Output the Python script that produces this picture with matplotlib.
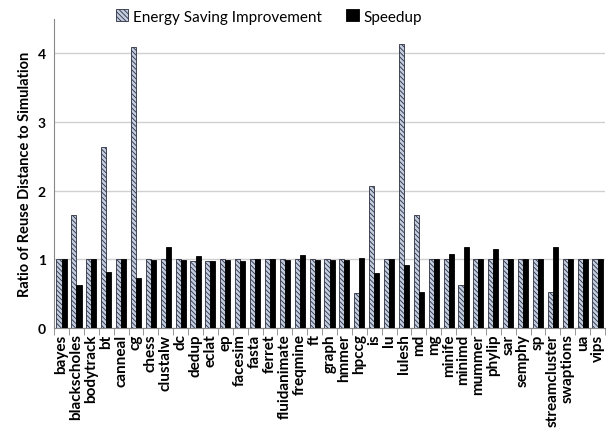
import numpy as np
import matplotlib.pyplot as plt

plt.rcParams['font.family'] = ['Lato', 'DejaVu Sans']
plt.rcParams['hatch.linewidth'] = 0.6

benchmarks = ['bayes', 'blackscholes', 'bodytrack', 'bt', 'canneal', 'cg', 'chess',
              'clustalw', 'dc', 'dedup', 'eclat', 'ep', 'facesim', 'fasta', 'ferret',
              'fluidanimate', 'freqmine', 'ft', 'graph', 'hmmer', 'hpccg', 'is', 'lu',
              'lulesh', 'md', 'mg', 'minife', 'minimd', 'mummer', 'phylip', 'sar',
              'semphy', 'sp', 'streamcluster', 'swaptions', 'ua', 'vips']

energy = [1.0, 1.64, 1.0, 2.63, 1.0, 4.09, 1.0,
          1.0, 1.0, 0.98, 0.98, 1.0, 1.0, 1.0, 1.0,
          1.0, 1.0, 1.0, 1.0, 1.0, 0.51, 2.07, 1.0,
          4.13, 1.64, 1.0, 1.0, 0.63, 1.0, 1.0, 1.0,
          1.0, 1.0, 0.52, 1.0, 1.0, 1.0]

speedup = [1.0, 0.63, 1.0, 0.81, 1.0, 0.72, 0.99,
           1.18, 0.99, 1.04, 0.97, 0.99, 0.97, 1.0, 1.0,
           0.99, 1.06, 0.99, 0.99, 0.99, 1.02, 0.80, 1.0,
           0.91, 0.52, 1.0, 1.07, 1.18, 1.0, 1.15, 1.0,
           1.0, 1.0, 1.18, 1.0, 1.0, 1.0]

x = np.arange(len(benchmarks))
w = 0.34

fig = plt.figure(figsize=(6.08, 4.31), dpi=100)
ax = fig.add_axes([0.089, 0.237, 0.906, 0.717])

ax.bar(x - w/2, energy, w, color='#c3cde0', edgecolor='#2b2f3f', linewidth=0.6,
       hatch='\\\\\\\\\\\\\\', label='Energy Saving Improvement', zorder=3)
ax.bar(x + w/2, speedup, w, color='black', edgecolor='black', linewidth=0.6,
       label='Speedup', zorder=3)

ax.set_xlim(-0.5, len(benchmarks) - 0.5)
ax.set_ylim(0, 4.5)
ax.set_yticks([0, 1, 2, 3, 4])
ax.set_yticklabels(['0', '1', '2', '3', '4'], fontweight='bold', fontsize=10)
ax.yaxis.grid(True, color='#d0d0d0', linewidth=1, zorder=0)
ax.tick_params(axis='y', length=0, pad=6)

ax.set_xticks(x)
ax.set_xticklabels(benchmarks, rotation=90, fontweight='bold', fontsize=11)
ax.set_xticks(np.arange(-0.5, len(benchmarks)), minor=True)
ax.tick_params(axis='x', which='major', length=0, pad=4)
ax.tick_params(axis='x', which='minor', length=5, color='#888888')

for s in ['top', 'right']:
    ax.spines[s].set_visible(False)
ax.spines['left'].set_color('#888888')
ax.spines['bottom'].set_color('#888888')

ax.set_ylabel('Ratio of Reuse Distance to Simulation', fontsize=10.5, fontweight='bold')

ax.legend(loc='upper center', bbox_to_anchor=(0.39, 1.075), ncol=2, frameon=False,
          fontsize=11, handlelength=0.8, handleheight=0.8, columnspacing=1.6,
          handletextpad=0.3)

fig.savefig('out.png', dpi=100)
